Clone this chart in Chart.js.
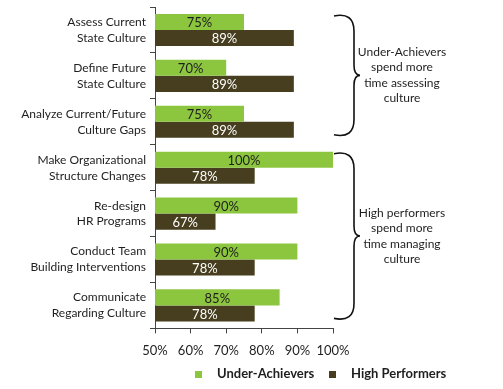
<!DOCTYPE html>
<html>
<head>
<meta charset="utf-8">
<script src="https://cdn.jsdelivr.net/npm/chart.js@4"></script>
<style>
  body { margin: 0; background: #fff; }
  #wrap { width: 503px; height: 389px; position: relative; }
</style>
</head>
<body>
<div id="wrap"><canvas id="grafica"></canvas></div>
<script>
const categorias = [
    ['Assess Current', 'State Culture'],
    ['Define Future', 'State Culture'],
    ['Analyze Current/Future', 'Culture Gaps'],
    ['Make Organizational', 'Structure Changes'],
    ['Re-design', 'HR Programs'],
    ['Conduct Team', 'Building Interventions'],
    ['Communicate', 'Regarding Culture']
];
const underAchievers = [75, 70, 75, 100, 90, 90, 85];
const highPerformers = [89, 89, 89, 78, 67, 78, 78];
const ticksX = [50, 60, 70, 80, 90, 100];
const notas = [
    { desde: 0, hasta: 2, texto: ['Under-Achievers', 'spend more', 'time assessing', 'culture'] },
    { desde: 3, hasta: 6, texto: ['High performers', 'spend more', 'time managing', 'culture'] }
];

const verde = '#8cc63f';
const oscuro = '#463e1e';
const fuente = 'Lato, "Open Sans", sans-serif';

// etiquetas dentro de cada barra
const etiquetas = {
    id: 'etiquetas',
    afterDatasetsDraw(chart) {
        const ctx = chart.ctx;
        const izq = chart.chartArea.left;
        ctx.save();
        ctx.font = '13px ' + fuente;
        ctx.textAlign = 'center';
        ctx.textBaseline = 'middle';
        chart.data.datasets.forEach((ds, i) => {
            chart.getDatasetMeta(i).data.forEach((bar, j) => {
                ctx.fillStyle = i === 0 ? '#1e1e1e' : '#ffffff';
                const cx = (bar.x + Math.max(bar.base, izq)) / 2;
                ctx.fillText(ds.data[j] + '%', cx, bar.y + 1);
            });
        });
        ctx.restore();
    }
};

// llaves y notas a la derecha
const llaves = {
    id: 'llaves',
    afterDraw(chart) {
        const ctx = chart.ctx;
        const y = chart.scales.y;
        const banda = y.getPixelForValue(1) - y.getPixelForValue(0);
        const x0 = chart.chartArea.right + 1;
        ctx.save();
        notas.forEach(n => {
            const y1 = y.getPixelForValue(n.desde) - banda / 2 + 8;
            const y2 = y.getPixelForValue(n.hasta) + banda / 2 - 9;
            const mid = (y1 + y2) / 2;
            const xv = x0 + 20;
            const tip = xv + 6;
            ctx.strokeStyle = '#111';
            ctx.lineWidth = 1.6;
            ctx.beginPath();
            ctx.moveTo(x0, y1 + 1);
            ctx.quadraticCurveTo(xv, y1 - 3, xv, y1 + 16);
            ctx.lineTo(xv, mid - 10);
            ctx.quadraticCurveTo(xv, mid, tip, mid);
            ctx.quadraticCurveTo(xv, mid, xv, mid + 10);
            ctx.lineTo(xv, y2 - 16);
            ctx.quadraticCurveTo(xv, y2 + 3, x0, y2 - 1);
            ctx.stroke();

            ctx.fillStyle = '#1e1e1e';
            ctx.font = '12px ' + fuente;
            ctx.textAlign = 'center';
            ctx.textBaseline = 'middle';
            const alto = 15.5;
            const inicio = mid - (n.texto.length - 1) * alto / 2;
            n.texto.forEach((t, k) => ctx.fillText(t, 402, inicio + k * alto));
        });
        ctx.restore();
    }
};

// leyenda propia
const leyenda = {
    id: 'leyenda',
    afterDraw(chart) {
        const ctx = chart.ctx;
        ctx.save();
        ctx.font = 'bold 13px ' + fuente;
        ctx.textBaseline = 'middle';
        const items = [
            { x: 195, color: verde, texto: chart.data.datasets[0].label },
            { x: 329, color: oscuro, texto: chart.data.datasets[1].label }
        ];
        items.forEach(it => {
            ctx.fillStyle = it.color;
            ctx.fillRect(it.x, 371, 7, 7);
            ctx.fillStyle = '#1e1e1e';
            ctx.fillText(it.texto, it.x + 22, 374);
        });
        ctx.restore();
    }
};

const data = {
    labels: categorias,
    datasets: [{
        label: 'Under-Achievers',
        data: underAchievers,
        backgroundColor: verde,
        borderWidth: 0,
        barPercentage: 1,
        categoryPercentage: 0.7
    }, {
        label: 'High Performers',
        data: highPerformers,
        backgroundColor: oscuro,
        borderWidth: 0,
        barPercentage: 1,
        categoryPercentage: 0.7
    }]
};

const config = {
    type: 'bar',
    data: data,
    plugins: [etiquetas, llaves, leyenda],
    options: {
        indexAxis: 'y',
        responsive: true,
        maintainAspectRatio: false,
        animation: false,
        layout: {
            padding: { top: 7, right: 170, bottom: 20, left: 0 }
        },
        plugins: {
            legend: { display: false },
            tooltip: { enabled: false }
        },
        scales: {
            x: {
                min: 50,
                max: 100,
                afterBuildTicks(scale) {
                    scale.ticks = ticksX.map(v => ({ value: v }));
                },
                border: { color: '#444', width: 1 },
                grid: { drawOnChartArea: false, tickLength: 5, color: '#444' },
                ticks: {
                    color: '#1e1e1e',
                    font: { family: fuente, size: 13 },
                    padding: 10,
                    maxRotation: 0,
                    minRotation: 0,
                    autoSkip: false,
                    callback: v => v + '%'
                }
            },
            y: {
                afterFit(scale) {
                    scale.width = 155;
                    scale.paddingTop = 0;
                    scale.paddingBottom = 0;
                },
                border: { color: '#444', width: 1 },
                grid: { drawOnChartArea: false, tickLength: 5, color: '#444' },
                ticks: {
                    color: '#1e1e1e',
                    font: { family: fuente, size: 12, lineHeight: 1.33 },
                    padding: 4
                }
            }
        }
    }
};

const ctx = document.getElementById('grafica');
const grafica = new Chart(ctx, config);
</script>
</body>
</html>
